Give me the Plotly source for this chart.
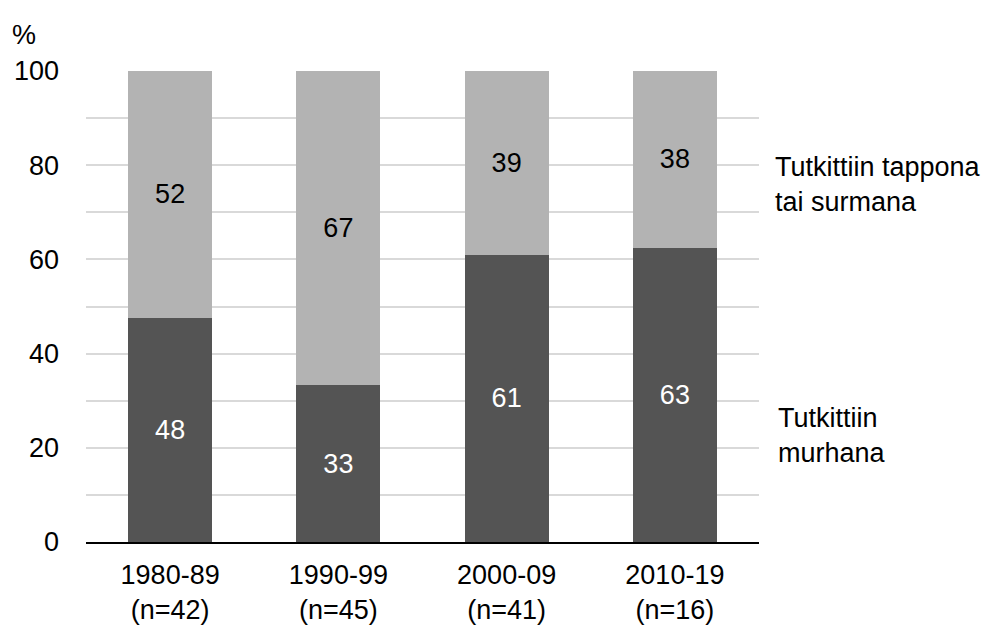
import plotly.graph_objects as go

periods = ["1980-89<br>(n=42)", "1990-99<br>(n=45)", "2000-09<br>(n=41)", "2010-19<br>(n=16)"]
murder = [47.6, 33.3, 61.0, 62.5]
murder_labels = ["48", "33", "61", "63"]
manslaughter = [52.4, 66.7, 39.0, 37.5]
manslaughter_labels = ["52", "67", "39", "38"]

FONT = "Liberation Sans, Arial, sans-serif"
FS = 27

fig = go.Figure()
fig.add_trace(go.Bar(
    x=periods, y=murder, text=murder_labels,
    marker=dict(color="#545454", line=dict(width=0)),
    textposition="inside", insidetextanchor="middle",
    textfont=dict(color="white", size=FS, family=FONT),
    hoverinfo="skip",
))
fig.add_trace(go.Bar(
    x=periods, y=manslaughter, text=manslaughter_labels,
    marker=dict(color="#b3b3b3", line=dict(width=0)),
    textposition="inside", insidetextanchor="middle",
    textfont=dict(color="black", size=FS, family=FONT),
    hoverinfo="skip",
))

fig.update_layout(
    barmode="stack",
    bargap=0.5,
    width=1008, height=630,
    margin=dict(l=86, r=249, t=71, b=88),
    paper_bgcolor="white", plot_bgcolor="white",
    showlegend=False,
    font=dict(family=FONT, size=FS, color="black"),
)
fig.update_xaxes(
    showline=True, linecolor="black", linewidth=1.5,
    ticks="", tickfont=dict(size=FS, color="black"),
    ticklabelstandoff=8,
    showgrid=False, automargin=False,
)
fig.update_yaxes(
    range=[0, 100], dtick=20, tick0=0,
    showgrid=True, gridcolor="#d9d9d9", gridwidth=1.5,
    minor=dict(dtick=10, showgrid=True, gridcolor="#d9d9d9", gridwidth=1.5),
    zeroline=False, showline=False,
    ticks="", ticklabelstandoff=26,
    tickfont=dict(size=FS, color="black"),
    automargin=False,
)

fig.add_annotation(text="%", xref="paper", yref="paper", x=0, y=1 + 36/471,
                   xanchor="left", yanchor="middle", showarrow=False,
                   font=dict(size=FS), xshift=-76)
fig.add_annotation(text="Tutkittiin tappona<br>tai surmana", xref="paper", yref="y",
                   x=1, y=75.8, xanchor="left", yanchor="middle", align="left",
                   xshift=14, showarrow=False, font=dict(size=FS))
fig.add_annotation(text="Tutkittiin<br>murhana", xref="paper", yref="y",
                   x=1, y=22.6, xanchor="left", yanchor="middle", align="left",
                   xshift=17, showarrow=False, font=dict(size=FS))

fig.write_html("out.html", config={"displayModeBar": False})

# drop the default body margin so the figure sits at the page corner
with open("out.html", encoding="utf-8") as f:
    html = f.read()
html = html.replace("<body>", '<body style="margin:0">', 1)
with open("out.html", "w", encoding="utf-8") as f:
    f.write(html)
